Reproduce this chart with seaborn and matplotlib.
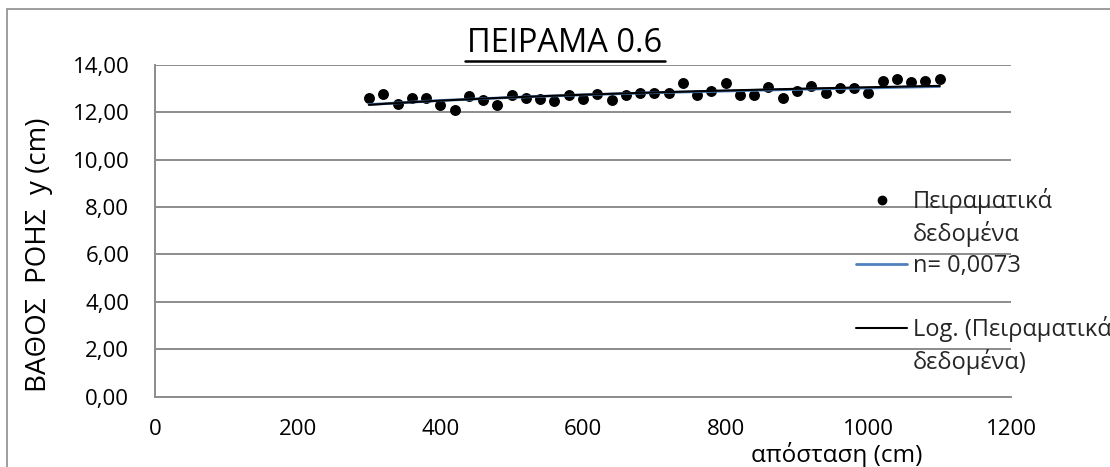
import numpy as np
import pandas as pd
import matplotlib
matplotlib.use("Agg")
import matplotlib.pyplot as plt
from matplotlib.ticker import FuncFormatter, MultipleLocator
from matplotlib.lines import Line2D
from matplotlib.patches import Rectangle
import seaborn as sns

# Measured flow depth along the channel
distance_cm = [300, 320, 340, 360, 380, 400, 420, 440, 460, 480,
               500, 520, 540, 560, 580, 600, 620, 640, 660, 680,
               700, 720, 740, 760, 780, 800, 820, 840, 860, 880,
               900, 920, 940, 960, 980, 1000, 1020, 1040, 1060, 1080, 1100]
depth_cm = [12.61, 12.75, 12.33, 12.61, 12.61, 12.31, 12.10, 12.70, 12.52, 12.31,
            12.72, 12.61, 12.54, 12.47, 12.72, 12.54, 12.77, 12.50, 12.72, 12.82,
            12.82, 12.82, 13.21, 12.71, 12.91, 13.21, 12.74, 12.74, 13.06, 12.61,
            12.87, 13.11, 12.81, 13.01, 13.01, 12.81, 13.32, 13.38, 13.27, 13.30, 13.38]

# Computed profile for Manning n = 0.0073
profile_x = [300, 400, 500, 600, 700, 800, 900, 1000, 1100]
profile_y = [12.32, 12.49, 12.62, 12.73, 12.82, 12.89, 12.96, 13.02, 13.08]

title_text = "ΠΕΙΡΑΜΑ 0.6"
xlabel_text = "απόσταση (cm)"
ylabel_text = "ΒΑΘΟΣ  ΡΟΗΣ  y (cm)"
legend_rows = ["Πειραματικά", "δεδομένα", "n= 0,0073", " ",
               "Log. (Πειραματικά", "δεδομένα)"]

sns.set_style("white")
plt.rcParams["font.family"] = ["Open Sans", "DejaVu Sans"]

grid_col = "#8c8c8c"
blue = "#4f81bd"

fig = plt.figure(figsize=(11.10, 4.67), dpi=100)
ax = fig.add_axes([155 / 1110, 70.3 / 467, 856 / 1110, 332 / 467])

meas = pd.DataFrame({"x": distance_cm, "y": depth_cm})
prof = pd.DataFrame({"x": profile_x, "y": profile_y})

sns.scatterplot(data=meas, x="x", y="y", ax=ax, color="black", s=62,
                edgecolor="black", linewidth=0, zorder=3, legend=False)
sns.lineplot(data=prof, x="x", y="y", ax=ax, color=blue, linewidth=2.0,
             zorder=4, legend=False)
# Logarithmic trend line fitted to the measurements
sns.regplot(data=meas, x="x", y="y", ax=ax, logx=True, scatter=False, ci=None,
            line_kws={"color": "black", "linewidth": 1.5, "zorder": 5})

ax.set_xlim(0, 1200)
ax.set_ylim(0, 14)
ax.xaxis.set_major_locator(MultipleLocator(200))
ax.yaxis.set_major_locator(MultipleLocator(2))
ax.yaxis.set_major_formatter(FuncFormatter(lambda v, p: f"{v:.2f}".replace(".", ",")))
ax.set_xlabel("")
ax.set_ylabel("")

ax.grid(axis="y", color=grid_col, linewidth=1.4)
ax.grid(axis="x", visible=False)
ax.set_axisbelow(True)
for side in ("top", "right"):
    ax.spines[side].set_visible(False)
for side in ("left", "bottom"):
    ax.spines[side].set_color(grid_col)
    ax.spines[side].set_linewidth(1.4)
ax.tick_params(axis="both", direction="out", width=1.4, color=grid_col,
               labelsize=16, labelcolor="black")
ax.tick_params(axis="x", length=6, pad=10)
ax.tick_params(axis="y", length=6.5, pad=12)

# Title with underline
fig.text(565 / 1110, 1 - 43 / 467, title_text, ha="center", va="center",
         fontsize=23.5, color="black")
fig.add_artist(Line2D([465 / 1110, 665 / 1110], [1 - 60.5 / 467, 1 - 60.5 / 467],
                      color="black", linewidth=1.8, transform=fig.transFigure))

fig.text(39 / 1110, 1 - 255 / 467, ylabel_text, rotation=90, ha="center", va="center",
         fontsize=20, color="black")
fig.text(837 / 1110, 1 - 455 / 467, xlabel_text, ha="center", va="center",
         fontsize=17.5, color="black")

blank = Line2D([], [], linestyle="none")
handles = [
    Line2D([], [], linestyle="none", marker="o", color="black", markersize=6),
    blank,
    Line2D([], [], color=blue, linewidth=2.0),
    blank,
    Line2D([], [], color="black", linewidth=1.5),
    blank,
]
fig.legend(handles, legend_rows,
           loc="upper left", bbox_to_anchor=(856 / 1110, 1 - 188 / 467),
           frameon=False, fontsize=17, handlelength=2.16, handletextpad=0.25,
           labelspacing=0.3, borderpad=0, borderaxespad=0)

# Chart area border
fig.add_artist(Rectangle((7 / 1110, -0.02), 1.2, 1 - 9 / 467 + 0.02,
                         transform=fig.transFigure, fill=False,
                         edgecolor="#8c8c8c", linewidth=1.2))

fig.savefig("out.png", dpi=100)
